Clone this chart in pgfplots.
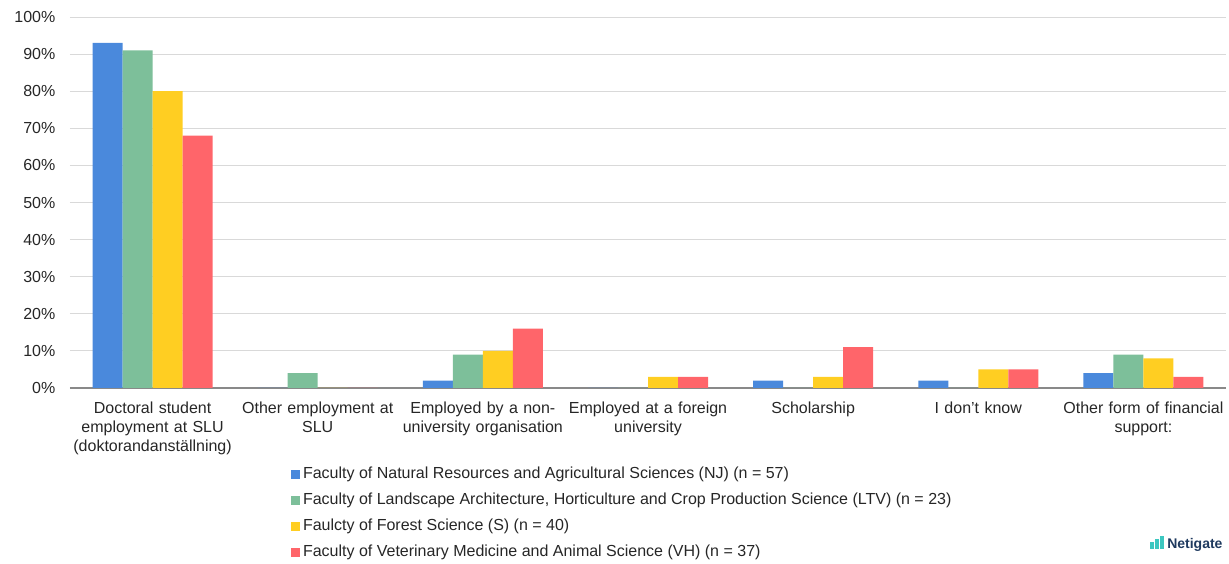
\documentclass[border=0pt]{standalone}
\usepackage{pgfplots}
\pgfplotsset{compat=1.18}
\usepackage{fontspec}
\setmainfont{Liberation Sans}
\definecolor{cNJ}{HTML}{4A89DC}
\definecolor{cLTV}{HTML}{7DBF9A}
\definecolor{cS}{HTML}{FFCE22}
\definecolor{cVH}{HTML}{FF656A}
\definecolor{gridc}{HTML}{D9D9D9}
\definecolor{axc}{HTML}{898989}
\definecolor{txt}{HTML}{262626}
\definecolor{navy}{HTML}{1F3A5F}
\definecolor{teal}{HTML}{3CC7C0}
\begin{document}
\begin{tikzpicture}[x=0.75pt,y=0.75pt]
\useasboundingbox (0,0) rectangle (1229,564);
\begin{axis}[
  at={(52.5pt,132pt)}, anchor=south west,
  scale only axis, width=867pt, height=278.25pt,
  ybar=0pt, bar width=22.5pt,
  xmin=-0.5, xmax=6.5, ymin=0, ymax=100,
  xtick=data,
  xticklabels={{Doctoral student\\employment at SLU\\(doktorandanställning)},{Other employment at\\SLU},{Employed by a non-\\university organisation},{Employed at a foreign\\university},{Scholarship},{I don't know},{Other form of financial\\support:}},
  xticklabel style={align=center, text width=170pt, font=\fontsize{12}{14.25}\selectfont, text=txt, anchor=north, yshift=-7pt},
  ytick={0,10,...,100},
  yticklabel={\pgfmathprintnumber{\tick}\%},
  yticklabel style={font=\fontsize{12}{14}\selectfont, text=txt, xshift=-7.5pt},
  /pgf/number format/assume math mode=true,
  major tick length=0pt,
  ymajorgrids, grid style={gridc, line width=0.6pt},
  axis x line*=bottom, axis y line*=left,
  x axis line style={axc, line width=0.9pt, -},
  y axis line style={draw=none},
  legend style={at={(0.1912,-0.2058)}, anchor=north west, draw=none, fill=none,
    font=\fontsize{12}{14}\selectfont, text=txt, row sep=5.3pt, inner sep=0pt,
    legend cell align=left},
  legend image code/.code={\fill[#1] (0pt,-3.4pt) rectangle (6.8pt,3.4pt);},
  every axis plot/.append style={draw=none},
  clip=false,
]
\addplot[fill=cNJ] coordinates {(0,93) (1,0) (2,2) (3,0) (4,2) (5,2) (6,4)};
\addplot[fill=cLTV] coordinates {(0,91) (1,4) (2,9) (3,0) (4,0) (5,0) (6,9)};
\addplot[fill=cS] coordinates {(0,80) (1,0) (2,10) (3,3) (4,3) (5,5) (6,8)};
\addplot[fill=cVH] coordinates {(0,68) (1,0) (2,16) (3,3) (4,11) (5,5) (6,3)};
\legend{Faculty of Natural Resources and Agricultural Sciences (NJ) (n = 57),
Faculty of Landscape Architecture{,} Horticulture and Crop Production Science (LTV) (n = 23),
Faulcty of Forest Science (S) (n = 40),
Faculty of Veterinary Medicine and Animal Science (VH) (n = 37)}
\end{axis}
\fill[teal] (1150,15) rectangle (1154,22);
\fill[teal] (1155,15) rectangle (1159,25);
\fill[teal] (1160,15) rectangle (1164,28);
\node[anchor=base west, inner sep=0pt, text=navy, font=\fontsize{10.5}{12}\selectfont\bfseries] at (1167,15) {Netigate};
\end{tikzpicture}
\end{document}
